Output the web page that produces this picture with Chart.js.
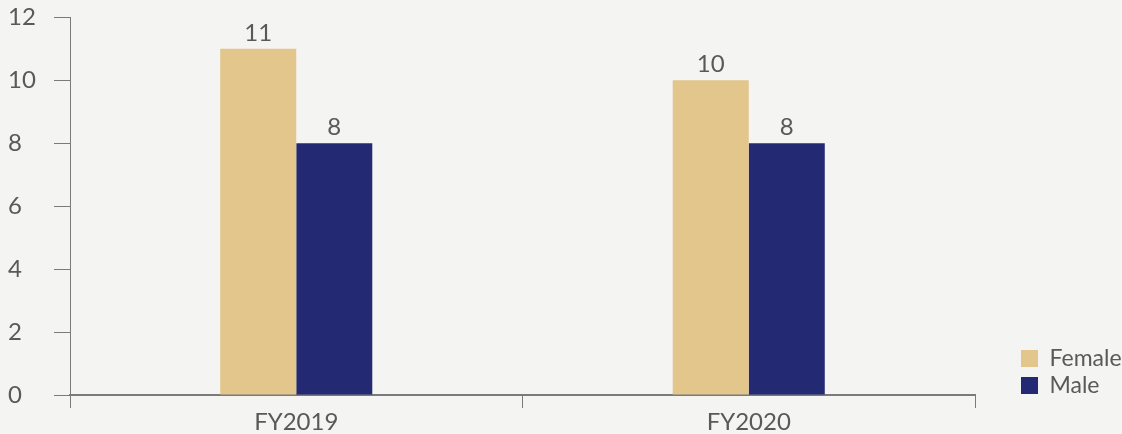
<!DOCTYPE html>
<html>
<head>
<meta charset="utf-8">
<script src="https://cdn.jsdelivr.net/npm/chart.js@4"></script>
<style>
  html, body { margin: 0; padding: 0; background: #f4f4f2; }
  #wrap { width: 1122px; height: 434px; }
</style>
</head>
<body>
<div id="wrap"><canvas id="bar-chart"></canvas></div>
<script>
// datos del grafico
const categorias = ["FY2019", "FY2020"]
const mujeres = [11, 10]
const hombres = [8, 8]
const ticksY = [0, 2, 4, 6, 8, 10, 12]

const gris = "#7a7a7a"
const textoGris = "#595959"

Chart.defaults.font.family = "Lato"
Chart.defaults.font.size = 24
Chart.defaults.color = textoGris

// etiquetas de valor encima de cada barra
const etiquetasValor = {
  id: "etiquetasValor",
  afterDatasetsDraw(chart) {
    const ctx = chart.ctx
    ctx.save()
    ctx.font = "24px Lato"
    ctx.fillStyle = textoGris
    ctx.textAlign = "center"
    ctx.textBaseline = "bottom"
    chart.data.datasets.forEach((ds, i) => {
      chart.getDatasetMeta(i).data.forEach((bar, j) => {
        ctx.fillText(ds.data[j], bar.x, bar.y - 4)
      })
    })
    ctx.restore()
  }
}

// el eje x es bajito para el layout, pero sus etiquetas no se deben recortar
const ejeXCompleto = {
  id: "ejeXCompleto",
  afterLayout(chart) {
    chart.scales.x.bottom = chart.height
  }
}

const contenedor = document.querySelector("#bar-chart").getContext("2d")
const barChart = new Chart(contenedor, {
  type: "bar",
  data: {
    labels: categorias,
    datasets: [
      { label: "Female", data: mujeres, backgroundColor: "#e2c68b" },
      { label: "Male", data: hombres, backgroundColor: "#232a73" }
    ]
  },
  options: {
    responsive: true,
    maintainAspectRatio: false,
    animation: false,
    layout: { padding: { left: 8, top: 17, right: 0, bottom: 33 } },
    datasets: { bar: { categoryPercentage: 0.336, barPercentage: 1 } },
    plugins: {
      tooltip: { enabled: false },
      legend: {
        position: "right",
        align: "end",
        maxWidth: 105,
        labels: { boxWidth: 17, boxHeight: 17, padding: 4, color: textoGris, font: { size: 23 } }
      }
    },
    scales: {
      x: {
        grid: { drawOnChartArea: false, tickLength: 13, color: gris, lineWidth: 1 },
        border: { color: gris, width: 2 },
        ticks: { padding: 0, color: textoGris },
        afterFit: (s) => { s.height = 6 }
      },
      y: {
        min: 0,
        max: 12,
        afterBuildTicks: (s) => { s.ticks = ticksY.map(v => ({ value: v })) },
        grid: { drawOnChartArea: false, tickLength: 16, color: gris, lineWidth: 1 },
        border: { color: gris, width: 1 },
        ticks: { crossAlign: "far", color: textoGris },
        afterFit: (s) => { s.width = 62 }
      },
      derecha: {
        type: "linear",
        position: "right",
        grid: { display: false },
        border: { display: false },
        ticks: { display: false },
        afterFit: (s) => { s.width = 42 }
      }
    }
  },
  plugins: [etiquetasValor, ejeXCompleto]
})
</script>
</body>
</html>
